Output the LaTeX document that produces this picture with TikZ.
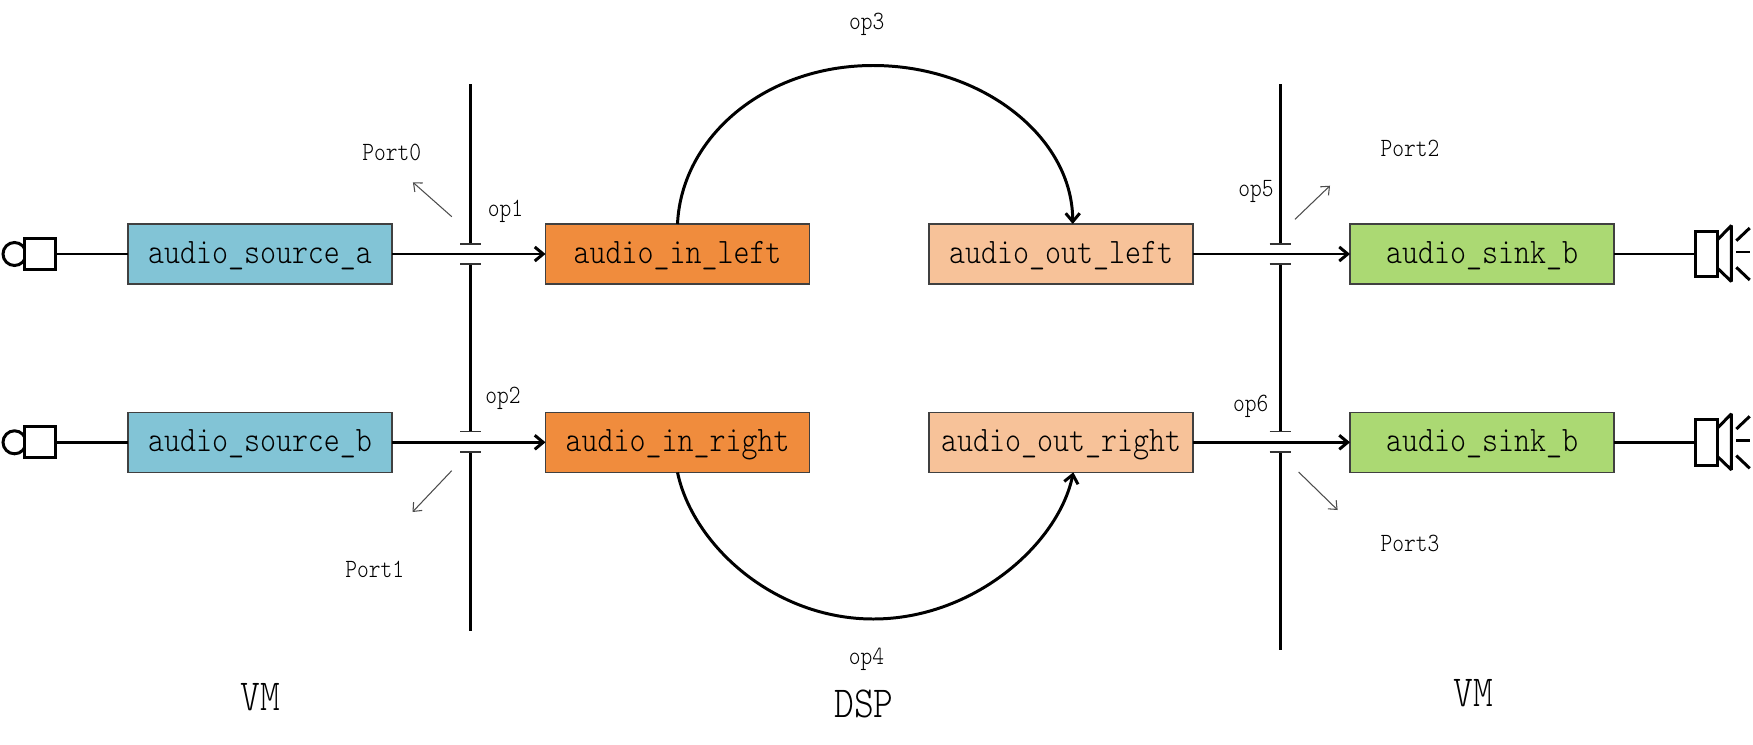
\documentclass[tikz,border=0pt]{standalone}
\usepackage{fontspec}
\usepackage{xcolor}
\usetikzlibrary{calc,arrows.meta}
\newfontfamily\thinmono[FakeStretch=0.85]{Latin Modern Mono Light}
\definecolor{srcblue}{rgb}{0.51,0.77,0.84}
\definecolor{inorange}{rgb}{0.94,0.55,0.24}
\definecolor{outorange}{rgb}{0.97,0.76,0.60}
\definecolor{sinkgreen}{rgb}{0.67,0.85,0.45}
\tikzset{
    block/.style={draw=black!75,line width=0.4pt,minimum width=2.64cm,minimum height=0.6cm,
        inner sep=0pt,outer sep=0pt,text height=2.5mm,text depth=0.64mm,
        font=\thinmono\fontsize{10.2}{12}\selectfont},
    wire/.style={line width=0.85pt},
    flow/.style={wire,-{Straight Barb[length=2.4pt,width=4pt]}},
    rail/.style={line width=0.85pt},
    railtick/.style={line width=0.4pt,draw=black!80},
    hint/.style={line width=0.3pt,draw=black!70,-{Straight Barb[length=2pt,width=3.4pt]}},
    small/.style={font=\thinmono\fontsize{7.5}{9}\selectfont,inner sep=0pt},
    sidelabel/.style={font=\thinmono\fontsize{12.6}{14}\selectfont,inner sep=0pt},
    device/.style={draw,wire,fill=white,inner sep=0pt,outer sep=0pt}
}

\begin{document}
\begin{tikzpicture}
    \useasboundingbox (0,0) rectangle (17.53,7.44);

    % One pixel of the picture is 0.01.
    \node[block,fill=srcblue] (sourcea) at (2.60,4.90) {audio\_source\_a};
    \node[block,fill=srcblue] (sourceb) at (2.60,3.017) {audio\_source\_b};
    \node[block,fill=inorange] (inleft) at (6.775,4.90) {audio\_in\_left};
    \node[block,fill=inorange] (inright) at (6.775,3.017) {audio\_in\_right};
    \node[block,fill=outorange] (outleft) at (10.61,4.90) {audio\_out\_left};
    \node[block,fill=outorange] (outright) at (10.61,3.017) {audio\_out\_right};
    \node[block,fill=sinkgreen] (sinka) at (14.82,4.90) {audio\_sink\_b};
    \node[block,fill=sinkgreen] (sinkb) at (14.82,3.017) {audio\_sink\_b};

    % Microphones
    \node[device,circle,minimum size=0.23cm] (mica) at (0.145,4.90) {};
    \node[device,minimum size=0.31cm] (pluga) at (0.40,4.90) {};
    \node[device,circle,minimum size=0.23cm] (micb) at (0.145,3.017) {};
    \node[device,minimum size=0.31cm] (plugb) at (0.40,3.017) {};
    \draw[wire] (pluga) -- (sourcea);
    \draw[wire] (plugb) -- (sourceb);

    % Speakers
    \node[device,minimum width=0.216cm,minimum height=0.455cm] (spka) at (17.065,4.90) {};
    \node[device,minimum width=0.216cm,minimum height=0.455cm] (spkb) at (17.065,3.017) {};
    \draw[wire] (sinka) -- (spka);
    \draw[wire] (sinkb) -- (spkb);
    \draw[wire,line join=bevel] ($(spka.east)+(0,0.14)$) -- ++(0.14,0.145) -- ++(0,-0.56) -- ++(-0.14,0.135);
    \draw[wire,line join=bevel] ($(spkb.east)+(0,0.14)$) -- ++(0.14,0.145) -- ++(0,-0.56) -- ++(-0.14,0.135);
    \draw[wire] ($(spka.east)+(0.19,0.133)$) -- ++(0.134,0.127);
    \draw[wire] ($(spka.east)+(0.19,0.02)$) -- ++(0.134,0);
    \draw[wire] ($(spka.east)+(0.19,-0.133)$) -- ++(0.134,-0.127);
    \draw[wire] ($(spkb.east)+(0.19,0.133)$) -- ++(0.134,0.127);
    \draw[wire] ($(spkb.east)+(0.19,0.02)$) -- ++(0.134,0);
    \draw[wire] ($(spkb.east)+(0.19,-0.133)$) -- ++(0.134,-0.127);

    % Rails with their gaps
    \draw[rail] (4.705,6.60) -- (4.705,5.00);
    \draw[rail] (4.705,4.80) -- (4.705,3.125);
    \draw[rail] (4.705,2.92) -- (4.705,1.13);
    \draw[rail] (12.80,6.60) -- (12.80,5.00);
    \draw[rail] (12.80,4.80) -- (12.80,3.125);
    \draw[rail] (12.80,2.92) -- (12.80,0.94);
    \draw[railtick] (4.60,5.00) -- ++(0.21,0);
    \draw[railtick] (4.60,4.80) -- ++(0.21,0);
    \draw[railtick] (4.60,3.125) -- ++(0.21,0);
    \draw[railtick] (4.60,2.92) -- ++(0.21,0);
    \draw[railtick] (12.695,5.00) -- ++(0.21,0);
    \draw[railtick] (12.695,4.80) -- ++(0.21,0);
    \draw[railtick] (12.695,3.125) -- ++(0.21,0);
    \draw[railtick] (12.695,2.92) -- ++(0.21,0);

    % Flows
    \draw[flow] (sourcea) -- (inleft);
    \draw[flow] (sourceb) -- (inright);
    \draw[flow] (outleft) -- (sinka);
    \draw[flow] (outright) -- (sinkb);

    \coordinate (toparc) at (8.73,6.785);
    \coordinate (bottomarc) at (8.733,1.25);
    \coordinate (outleftin) at ($(outleft.north)+(0.117,0)$);
    \coordinate (outrightin) at ($(outright.south)+(0.123,0)$);
    \draw[flow] (inleft.north) .. controls +(0.04,0.87) and +(-1.08,0) .. (toparc)
        .. controls +(1.09,0) and +(0,0.87) .. (outleftin);
    \draw[flow] (inright.south) .. controls +(0.15,-0.72) and +(-1.0,0) .. (bottomarc)
        .. controls +(1.0,0) and +(-0.15,-0.72) .. (outrightin);

    % Port hints
    \coordinate (hinta) at (4.518,5.273);
    \coordinate (hintb) at (4.517,2.733);
    \coordinate (hintc) at (12.95,5.247);
    \coordinate (hintd) at (12.986,2.72);
    \draw[hint] (hinta) -- (4.129,5.617);
    \draw[hint] (hintb) -- (4.125,2.32);
    \draw[hint] (hintc) -- (13.30,5.583);
    \draw[hint] (hintd) -- (13.376,2.34);

    % Labels
    \node[small] (port0) at (3.918,5.917) {Port0};
    \node[small] (port1) at (3.747,1.75) {Port1};
    \node[small] (port2) at (14.10,5.957) {Port2};
    \node[small] (port3) at (14.10,2.005) {Port3};
    \node[small] (op1) at (5.054,5.33) {op1};
    \node[small] (op2) at (5.029,3.46) {op2};
    \node[small] (op3) at (8.667,7.20) {op3};
    \node[small] (op4) at (8.664,0.85) {op4};
    \node[small] (op5) at (12.56,5.53) {op5};
    \node[small] (op6) at (12.507,3.38) {op6};
    \node[sidelabel] (vmleft) at (2.605,0.473) {VM};
    \node[sidelabel] (dsp) at (8.64,0.40) {DSP};
    \node[sidelabel] (vmright) at (14.734,0.513) {VM};

\end{tikzpicture}
\end{document}
